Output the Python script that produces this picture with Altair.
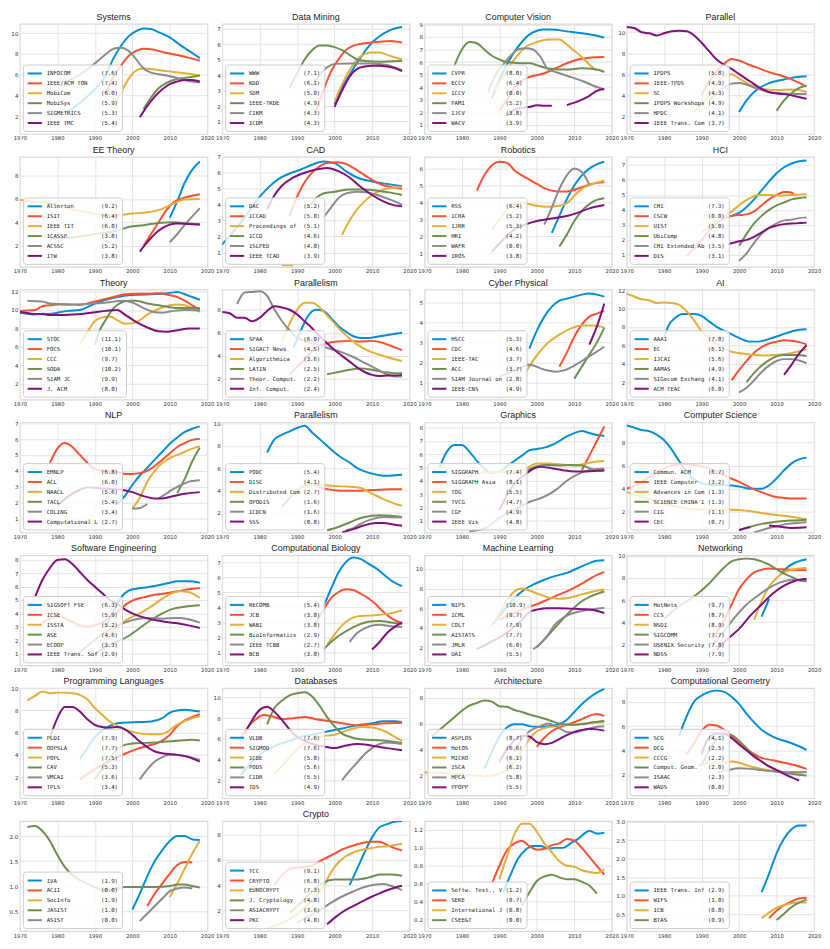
import altair as alt
import pandas as pd

COLORS = ["#008fd5", "#fc4f30", "#e5ae38", "#6d904f", "#8b8b8b", "#810f7c"]
X_TICKS = [1970, 1980, 1990, 2000, 2010, 2020]

# ---------------- data: (name, score, [(year, value), ... None = gap]) ----------------
P01 = [
    ("INFOCOM", 7.6, [(1982,2.3),(1985,3.0),(1988,3.9),(1991,5.0),(1993,6.0),(1995,7.6),(1997,8.8),(1999,9.7),(2001,10.2),(2003,10.45),(2005,10.4),(2007,10.1),(2010,9.6),(2013,8.8),(2016,8.1),(2018,7.6)]),
    ("IEEE/ACM TON", 7.4, [(1993,4.3),(1995,5.8),(1997,6.9),(1999,7.8),(2001,8.3),(2003,8.5),(2005,8.45),(2008,8.2),(2012,7.9),(2015,7.65),(2018,7.35)]),
    ("MobiCom", 6.0, [(1995,2.8),(1997,4.3),(1999,5.6),(2001,6.4),(2003,6.6),(2005,6.55),(2009,6.35),(2013,6.2),(2018,5.95)]),
    ("MobiSys", 5.9, [(2003,2.7),(2005,3.8),(2007,4.7),(2009,5.2),(2011,5.5),(2014,5.7),(2018,5.9)]),
    ("SIGMETRICS", 5.3, [(1982,5.3),(1985,5.8),(1988,6.5),(1990,7.1),(1993,8.0),(1995,8.5),(1997,8.6),(1999,8.3),(2001,7.5),(2003,6.6),(2005,6.2),(2008,6.0),(2012,5.7),(2015,5.4),(2018,5.25)]),
    ("IEEE TMC", 5.4, [(2002,1.9),(2004,3.0),(2006,3.9),(2008,4.6),(2010,5.1),(2012,5.35),(2014,5.5),(2016,5.5),(2018,5.35)]),
]
P02 = [
    ("WWW", 7.1, [(2000,2.1),(2002,3.2),(2004,4.0),(2006,4.8),(2008,5.5),(2010,6.1),(2012,6.5),(2014,6.8),(2016,7.0),(2018,7.1)]),
    ("KDD", 6.1, [(1995,1.7),(1997,3.0),(1999,4.2),(2001,5.0),(2003,5.6),(2005,5.9),(2008,6.05),(2012,6.15),(2015,6.2),(2018,6.1)]),
    ("SDM", 5.0, [(2000,2.3),(2002,3.4),(2004,4.3),(2006,5.0),(2008,5.35),(2010,5.45),(2012,5.45),(2014,5.3),(2016,5.15),(2018,5.0)]),
    ("IEEE-TKDE", 4.9, [(1988,3.2),(1990,4.1),(1992,5.0),(1994,5.6),(1996,5.9),(1998,5.9),(2000,5.8),(2002,5.6),(2004,5.3),(2006,5.0),(2008,4.9),(2012,4.85),(2018,4.9)]),
    ("CIKM", 4.3, [(1994,3.3),(1996,4.0),(1998,4.5),(2000,4.72),(2004,4.75),(2010,4.75),(2014,4.65),(2018,4.3)]),
    ("ICDM", 4.3, [(2000,1.95),(2002,3.0),(2004,3.9),(2006,4.4),(2008,4.55),(2010,4.6),(2012,4.6),(2014,4.55),(2016,4.45),(2018,4.25)]),
]
P03 = [
    ("CVPR", 8.0, [(1988,3.1),(1990,4.6),(1992,5.8),(1994,6.8),(1996,7.6),(1998,8.2),(2000,8.5),(2002,8.6),(2004,8.6),(2008,8.45),(2012,8.3),(2016,8.1),(2018,7.95)]),
    ("ECCV", 6.4, [(1990,2.1),(1992,3.0),(1995,4.3),(1998,4.8),(2002,5.1),(2005,5.5),(2008,5.9),(2011,6.2),(2014,6.35),(2018,6.4)]),
    ("ICCV", 0.0, [(1988,3.5),(1991,4.8),(1993,5.8),(1995,6.6),(1997,7.2),(2000,7.6),(2003,7.8),(2006,7.8),(2008,7.4),(2010,6.9),(2012,6.4),(2014,5.8),(2016,5.3)]),
    ("PAMI", 5.2, [(1978,5.7),(1980,7.0),(1982,7.6),(1984,7.5),(1986,7.0),(1988,6.5),(1990,6.2),(1992,6.0),(1994,5.95),(1996,5.9),(1998,5.9),(2000,5.75),(2002,5.55),(2004,5.45),(2008,5.4),(2012,5.5),(2016,5.4),(2018,5.2)]),
    ("IJCV", 3.8, [(1987,3.6),(1989,5.0),(1991,5.8),(1993,6.5),(1995,7.0),(1997,7.1),(1999,7.0),(2001,6.4),(2003,5.4),(2005,5.2),(2008,4.9),(2012,4.5),(2016,4.0),(2018,3.8)]),
    ("WACV", 3.9, [(1992,1.7),(1995,2.3),(1998,2.4),(2000,2.55),(2002,2.5),(2004,2.5),None,(2008,2.55),(2010,2.75),(2012,3.0),(2014,3.3),(2016,3.7),(2018,3.85)]),
]
P04 = [
    ("IPDPS", 5.8, [(2000,2.4),(2002,3.5),(2004,4.3),(2006,4.8),(2008,5.15),(2010,5.35),(2012,5.5),(2014,5.65),(2016,5.75),(2018,5.8)]),
    ("IEEE-TPDS", 4.9, [(1990,4.0),(1992,5.3),(1994,6.3),(1996,7.0),(1998,7.45),(2000,7.3),(2002,7.0),(2005,6.6),(2008,6.2),(2011,5.9),(2014,5.5),(2016,5.2),(2018,4.8)]),
    ("SC", 4.3, [(1988,2.4),(1991,3.5),(1994,5.0),(1996,5.9),(1998,6.0),(2000,5.6),(2003,5.0),(2006,4.6),(2010,4.5),(2014,4.55),(2016,4.5),(2018,4.3)]),
    ("IPDPS Workshops", 4.9, [(2010,2.5),(2012,3.5),(2014,4.2),(2016,4.7),(2018,4.9)]),
    ("HPDC", 4.1, [(1992,3.5),(1995,4.5),(1998,5.1),(2000,5.15),(2002,5.0),(2005,4.6),(2008,4.3),(2012,4.15),(2016,4.1),(2018,4.1)]),
    ("IEEE Trans. Com", 3.7, [(1970,10.5),(1972,10.4),(1974,10.0),(1976,9.9),(1978,9.7),(1980,9.9),(1982,10.1),(1984,10.15),(1986,10.1),(1988,9.7),(1990,9.0),(1992,8.2),(1994,7.4),(1996,6.9),(1998,6.5),(2000,6.0),(2003,5.3),(2006,4.6),(2009,4.2),(2012,4.1),(2015,3.9),(2018,3.65)]),
]
P05 = [
    ("Allerton", 9.2, [(2010,4.4),(2012,5.8),(2014,7.4),(2016,8.5),(2018,9.2)]),
    ("ISIT", 6.4, [(2003,2.0),(2005,3.0),(2007,4.0),(2009,5.0),(2011,5.7),(2013,6.0),(2015,6.2),(2018,6.4)]),
    ("IEEE TIT", 6.0, [(1970,5.9),(1972,5.85),(1974,5.7),(1976,5.75),(1978,5.55),(1980,5.4),(1984,5.1),(1988,4.85),(1992,4.65),(1996,4.6),(2000,4.75),(2004,4.85),(2008,5.15),(2011,5.6),(2014,5.95),(2018,6.0)]),
    ("ICASSP", 3.8, [(1978,2.6),(1984,2.7),(1990,3.0),(1996,3.3),(1999,3.6),(2003,3.75),(2007,3.95),(2011,4.0),(2015,3.9),(2018,3.85)]),
    ("ACSSC", 5.2, [(2010,2.3),(2012,3.0),(2014,3.8),(2016,4.5),(2018,5.2)]),
    ("ITW", 3.8, [(2002,1.5),(2004,2.3),(2006,3.0),(2008,3.5),(2010,3.8),(2012,3.9),(2015,3.85),(2018,3.8)]),
]
P06 = [
    ("DAC", 5.2, [(1970,1.5),(1973,2.3),(1976,3.2),(1979,4.2),(1982,5.0),(1985,5.6),(1988,5.95),(1991,6.2),(1994,6.5),(1997,6.7),(2000,6.6),(2003,6.1),(2006,5.7),(2010,5.45),(2014,5.3),(2018,5.15)]),
    ("ICCAD", 5.0, [(1988,3.3),(1990,4.5),(1992,5.4),(1994,6.0),(1996,6.4),(1998,6.6),(2001,6.65),(2003,6.55),(2005,6.3),(2007,6.0),(2009,5.7),(2012,5.3),(2015,5.1),(2018,5.0)]),
    ("Proceedings of", 5.1, [(1986,0.2),(1989,0.2),None,(2002,2.1),(2004,3.0),(2006,3.7),(2008,4.2),(2010,4.6),(2012,4.85),(2014,5.0),(2016,5.05),(2018,5.1)]),
    ("ICCD", 4.6, [(1993,3.8),(1995,4.4),(1997,4.7),(2000,4.8),(2004,4.95),(2008,4.95),(2012,4.85),(2015,4.75),(2018,4.6)]),
    ("ISLPED", 4.0, [(1997,3.2),(1999,3.8),(2001,4.4),(2003,4.7),(2006,4.8),(2009,4.75),(2012,4.55),(2015,4.3),(2018,4.0)]),
    ("IEEE TCAD", 3.9, [(1982,3.7),(1984,4.6),(1986,5.2),(1989,5.7),(1992,6.0),(1995,6.2),(1998,6.3),(2001,6.1),(2004,5.7),(2007,5.1),(2010,4.6),(2013,4.2),(2016,3.95),(2018,3.9)]),
]
P07 = [
    ("RSS", 6.4, [(2004,2.2),(2006,3.2),(2008,4.2),(2010,5.0),(2012,5.6),(2014,6.0),(2016,6.25),(2018,6.4)]),
    ("ICRA", 5.2, [(1984,4.7),(1986,5.6),(1988,6.2),(1990,6.4),(1992,6.35),(1994,5.9),(1996,5.6),(1998,5.35),(2000,5.1),(2002,4.85),(2004,4.7),(2006,4.65),(2008,4.65),(2010,4.75),(2012,4.9),(2015,5.1),(2018,5.2)]),
    ("IJRR", 5.3, [(1988,2.4),(1990,3.0),(1992,3.6),(1994,3.85),(1996,4.0),(1998,3.9),(2000,3.8),(2003,3.75),(2006,3.8),(2008,3.95),(2010,4.4),(2012,4.8),(2015,5.1),(2018,5.3)]),
    ("HRI", 4.2, [(2006,1.4),(2008,2.1),(2010,2.9),(2012,3.5),(2014,3.9),(2016,4.15),(2018,4.25)]),
    ("WAFR", 0.0, [(2002,2.7),(2004,3.7),(2006,4.8),(2008,5.6),(2010,6.0),(2012,5.8),(2014,5.05)]),
    ("IROS", 3.8, [(1988,1.1),(1991,1.8),(1994,2.4),(1997,2.7),(2000,2.9),(2004,3.05),(2008,3.2),(2011,3.4),(2014,3.65),(2018,3.85)]),
]
P08 = [
    ("CHI", 7.3, [(1995,3.3),(1998,3.6),(2000,3.8),(2002,4.2),(2004,4.7),(2006,5.3),(2008,5.9),(2010,6.45),(2012,6.85),(2014,7.1),(2016,7.25),(2018,7.3)]),
    ("CSCW", 0.0, [(1986,0.9),(1989,1.7),(1992,2.6),(1995,3.3),(1998,3.6),(2000,3.65),(2002,3.7),(2004,3.9),(2006,4.3),(2008,4.7),(2010,5.0),(2012,5.2),(2013,5.2),(2014,5.15),(2015,4.95)]),
    ("UIST", 5.0, [(1990,2.5),(1994,3.2),(1997,3.7),(1999,4.1),(2001,4.5),(2003,4.8),(2005,5.0),(2008,5.0),(2011,4.95),(2014,5.0),(2018,5.05)]),
    ("UbiComp", 4.8, [(2000,1.6),(2002,2.4),(2004,3.1),(2006,3.6),(2008,4.0),(2010,4.3),(2012,4.5),(2014,4.7),(2016,4.8),(2018,4.85)]),
    ("CHI Extended Ab", 3.5, [(2000,0.6),(2002,1.1),(2004,1.8),(2006,2.4),(2008,2.8),(2010,3.1),(2012,3.3),(2014,3.35),(2016,3.45),(2018,3.5)]),
    ("DIS", 3.1, [(1997,1.7),(2000,1.9),(2002,2.0),(2004,2.2),(2006,2.5),(2008,2.8),(2010,2.95),(2012,3.05),(2015,3.1),(2018,3.15)]),
]
P09 = [
    ("STOC", 11.1, [(1970,9.7),(1972,9.6),(1974,9.5),(1976,9.6),(1978,9.55),(1980,9.7),(1983,9.9),(1986,10.0),(1988,10.3),(1990,10.7),(1993,11.1),(1996,11.4),(1999,11.6),(2002,11.65),(2005,11.7),(2008,11.75),(2011,11.9),(2012,11.95),(2014,11.7),(2016,11.4),(2018,11.1)]),
    ("FOCS", 10.1, [(1970,9.9),(1972,9.95),(1974,10.0),(1976,10.4),(1978,10.5),(1980,10.6),(1983,10.6),(1986,10.55),(1989,10.8),(1992,11.1),(1995,11.4),(1998,11.7),(2001,11.75),(2004,11.75),(2007,11.8),(2010,11.6),(2012,11.4),(2014,11.0),(2016,10.5),(2018,10.0)]),
    ("CCC", 9.7, [(1986,6.4),(1988,7.6),(1990,8.8),(1992,9.2),(1994,9.3),(1996,8.9),(1998,8.5),(2000,8.55),(2002,8.9),(2004,9.5),(2007,10.1),(2010,10.5),(2012,10.6),(2014,10.5),(2016,10.2),(2018,9.8)]),
    ("SODA", 10.2, [(1990,6.2),(1991,7.5),(1993,9.0),(1995,10.2),(1997,10.8),(1999,11.0),(2001,11.0),(2004,10.7),(2007,10.5),(2010,10.3),(2013,10.2),(2016,10.2),(2018,10.2)]),
    ("SIAM JC", 9.9, [(1972,11.0),(1974,10.95),(1976,10.9),(1978,10.7),(1980,10.65),(1983,10.6),(1986,10.6),(1989,10.7),(1992,10.75),(1995,10.9),(1998,11.0),(2000,10.8),(2003,10.2),(2006,9.75),(2008,9.7),(2011,9.9),(2014,10.0),(2018,9.95)]),
    ("J. ACM", 8.0, [(1970,9.8),(1973,9.6),(1976,9.55),(1978,9.45),(1981,9.45),(1984,9.5),(1987,9.6),(1990,9.75),(1993,9.9),(1996,10.0),(1998,9.5),(2001,8.7),(2004,8.1),(2007,7.7),(2009,7.65),(2012,7.8),(2015,8.0),(2018,8.0)]),
]
P10 = [
    ("SPAA", 6.0, [(1989,4.7),(1991,6.2),(1993,7.5),(1995,8.0),(1997,7.9),(1999,7.3),(2001,6.6),(2003,6.1),(2005,5.7),(2007,5.55),(2009,5.55),(2012,5.7),(2015,5.85),(2018,6.0)]),
    ("SIGACT News", 4.5, [(1988,2.4),(1992,3.7),(1995,4.7),(1998,5.1),(2001,5.25),(2004,5.3),(2007,5.25),(2010,5.3),(2012,5.2),(2014,5.0),(2016,4.75),(2018,4.5)]),
    ("Algorithmica", 3.6, [(1986,5.3),(1988,6.8),(1990,8.0),(1992,8.6),(1994,8.6),(1996,8.2),(1998,7.5),(2000,6.8),(2002,6.1),(2004,5.5),(2006,5.0),(2008,4.6),(2010,4.3),(2013,4.0),(2016,3.7),(2018,3.55)]),
    ("LATIN", 2.5, [(1998,2.4),(2001,2.6),(2004,2.8),(2007,2.9),(2010,2.8),(2013,2.6),(2016,2.5),(2018,2.5)]),
    ("Theor. Comput.", 2.2, [(1974,8.5),(1976,9.5),(1978,9.55),(1980,9.6),(1982,9.2),(1984,8.0),(1986,7.0),(1988,6.2),(1990,5.6),(1993,5.2),(1996,4.9),(1999,4.6),(2002,4.3),(2005,3.9),(2008,3.4),(2011,2.9),(2014,2.4),(2016,2.2),(2018,2.2)]),
    ("Inf. Comput.", 2.4, [(1970,7.8),(1972,7.7),(1974,7.3),(1976,7.3),(1978,7.0),(1980,7.3),(1982,7.9),(1984,8.3),(1986,8.2),(1988,8.0),(1990,7.6),(1992,7.0),(1994,6.4),(1996,5.7),(1998,5.1),(2000,4.5),(2002,4.0),(2004,3.5),(2006,3.0),(2008,2.6),(2010,2.35),(2012,2.25),(2014,2.3),(2016,2.3),(2018,2.35)]),
]
P11 = [
    ("HSCC", 5.3, [(1998,2.7),(2000,3.6),(2002,4.3),(2004,4.8),(2006,5.1),(2008,5.2),(2010,5.3),(2012,5.4),(2014,5.45),(2016,5.4),(2018,5.3)]),
    ("CDC", 4.6, [(2006,1.8),(2008,2.5),(2010,3.3),(2012,3.9),(2014,4.3),(2016,4.45),(2018,4.6)]),
    ("IEEE-TAC", 3.7, [(1997,1.5),(1999,2.1),(2001,2.6),(2003,3.0),(2006,3.4),(2009,3.7),(2012,3.85),(2015,3.85),(2018,3.75)]),
    ("ACC", 3.7, [(2010,1.2),(2012,1.8),(2014,2.4),(2016,3.0),(2018,3.75)]),
    ("SIAM Journal on", 2.8, [(1990,1.3),(1994,1.6),(1998,1.9),(2002,1.65),(2005,1.55),(2007,1.6),(2010,1.85),(2013,2.2),(2016,2.55),(2018,2.8)]),
    ("IEEE-CNS", 4.9, [(2014,2.9),(2016,3.8),(2018,4.95)]),
]
P12 = [
    ("AAAI", 7.8, [(1980,6.8),(1981,8.0),(1983,9.0),(1985,9.4),(1988,9.4),(1990,9.2),(1992,8.6),(1994,8.0),(1997,7.4),(2000,6.8),(2003,6.4),(2005,6.4),(2008,6.7),(2011,7.1),(2014,7.5),(2016,7.7),(2018,7.75)]),
    ("EC", 6.1, [(1998,2.2),(2000,3.3),(2002,4.3),(2004,5.2),(2006,5.8),(2008,6.2),(2010,6.4),(2012,6.55),(2014,6.5),(2016,6.35),(2018,6.1)]),
    ("IJCAI", 5.6, [(1970,11.6),(1972,11.3),(1974,11.0),(1976,10.9),(1978,10.6),(1980,10.65),(1982,10.6),(1984,10.4),(1986,9.7),(1988,8.7),(1990,7.5),(1992,6.8),(1994,6.1),(1996,5.6),(1998,5.3),(2001,5.1),(2004,4.95),(2007,4.9),(2010,4.95),(2013,5.1),(2016,5.35),(2018,5.6)]),
    ("AAMAS", 4.9, [(2002,2.0),(2004,3.0),(2006,3.8),(2008,4.4),(2010,4.8),(2012,4.95),(2015,4.95),(2018,4.85)]),
    ("SIGecom Exchang", 4.1, [(2000,0.9),(2002,1.4),(2004,2.2),(2006,3.1),(2008,3.8),(2010,4.3),(2012,4.5),(2014,4.5),(2016,4.35),(2018,4.05)]),
    ("ACM TEAC", 6.0, [(2012,2.8),(2014,3.9),(2016,5.1),(2018,6.0)]),
]
P13 = [
    ("EMNLP", 6.8, [(1996,1.9),(1998,2.4),(2000,3.1),(2002,3.7),(2004,4.2),(2006,4.7),(2008,5.2),(2010,5.7),(2012,6.1),(2014,6.45),(2016,6.65),(2018,6.8)]),
    ("ACL", 6.0, [(1978,4.5),(1980,5.4),(1982,5.75),(1984,5.5),(1986,5.0),(1988,4.5),(1990,4.1),(1992,4.0),(1994,3.95),(1996,3.9),(1998,3.8),(2000,3.8),(2002,3.85),(2004,4.0),(2006,4.3),(2008,4.7),(2010,5.1),(2012,5.5),(2014,5.75),(2016,5.95),(2018,6.0)]),
    ("NAACL", 5.6, [(2000,1.6),(2002,2.3),(2004,3.3),(2006,4.0),(2008,4.5),(2010,4.8),(2012,5.0),(2014,5.2),(2016,5.4),(2018,5.55)]),
    ("TACL", 5.4, [(2012,2.6),(2014,3.5),(2016,4.6),(2018,5.45)]),
    ("COLING", 3.4, [(2000,1.6),(2002,1.65),(2004,1.9),None,(2007,2.25),(2009,2.55),(2011,2.85),(2013,3.1),(2015,3.3),(2018,3.4)]),
    ("Computational L", 2.7, [(1980,1.8),(1983,2.4),(1986,2.8),(1988,2.95),(1991,2.9),(1994,2.85),(1997,2.8),(2000,2.65),(2003,2.4),(2006,2.25),(2008,2.25),(2011,2.4),(2014,2.55),(2018,2.65)]),
]
P14 = [
    ("PODC", 5.4, [(1982,7.4),(1984,8.6),(1986,9.0),(1988,9.3),(1990,9.6),(1992,9.8),(1994,9.2),(1996,8.6),(1998,8.0),(2000,7.4),(2002,6.9),(2004,6.5),(2006,6.0),(2008,5.7),(2010,5.5),(2012,5.35),(2014,5.3),(2016,5.35),(2018,5.4)]),
    ("DISC", 4.1, [(1986,2.5),(1988,3.3),(1990,4.0),(1992,4.4),(1994,4.5),(1996,4.3),(1998,4.1),(2000,4.0),(2003,3.95),(2006,3.95),(2009,4.0),(2012,4.05),(2015,4.1),(2018,4.1)]),
    ("Distributed Com", 2.7, [(1988,3.5),(1990,4.0),(1993,4.5),(1996,4.5),(1999,4.4),(2002,4.35),(2005,4.3),(2007,4.2),(2010,3.7),(2013,3.2),(2016,2.8),(2018,2.6)]),
    ("OPODIS", 1.6, [(1998,0.4),(2001,0.7),(2004,1.1),(2007,1.5),(2010,1.7),(2012,1.75),(2015,1.7),(2018,1.6)]),
    ("ICDCN", 1.6, [(2003,0.4),(2005,0.6),(2007,1.0),(2010,1.4),(2013,1.6),(2018,1.55)]),
    ("SSS", 0.8, [(2002,0.2),(2005,0.5),(2008,0.85),(2011,1.05),(2013,1.05),(2016,0.9),(2018,0.8)]),
]
P15 = [
    ("SIGGRAPH", 7.4, [(1974,5.0),(1976,6.2),(1978,6.7),(1980,6.7),(1982,6.2),(1984,5.5),(1986,4.9),(1988,4.6),(1990,4.7),(1992,5.1),(1994,5.5),(1996,5.9),(1998,6.3),(2000,6.4),(2002,6.5),(2004,6.7),(2006,7.0),(2008,7.35),(2010,7.6),(2012,7.75),(2014,7.6),(2016,7.45),(2018,7.4)]),
    ("SIGGRAPH Asia", 8.1, [(2012,4.8),(2014,5.9),(2016,7.0),(2018,8.1)]),
    ("TOG", 5.5, [(1982,4.3),(1986,4.65),(1990,4.65),(1994,4.7),(1997,4.9),(2000,5.3),(2003,5.3),(2006,5.25),(2010,5.15),(2013,5.3),(2016,5.45),(2018,5.5)]),
    ("TVCG", 4.7, [(1997,4.7),(2000,5.1),(2003,5.2),(2006,5.15),(2009,5.2),(2012,5.15),(2015,4.85),(2018,4.75)]),
    ("CGF", 4.9, [(1982,0.2),(1986,0.4),(1990,1.2),(1994,1.8),(1998,2.4),(2002,2.8),(2005,3.3),(2008,4.0),(2011,4.5),(2014,4.8),(2018,4.9)]),
    ("IEEE Vis", 4.8, [(1990,1.8),(1992,2.9),(1994,3.8),(1997,4.5),(1999,4.9),(2001,5.05),(2004,4.95),(2007,4.8),(2010,4.7),(2013,4.7),(2016,4.75),(2018,4.8)]),
]
P16 = [
    ("Commun. ACM", 6.7, [(1970,9.5),(1972,9.3),(1974,9.1),(1976,9.0),(1978,8.7),(1980,8.2),(1982,7.4),(1984,6.4),(1986,5.5),(1988,4.8),(1991,4.4),(1994,4.3),(1997,4.3),(2000,4.2),(2003,4.0),(2006,4.0),(2008,4.3),(2010,4.9),(2012,5.6),(2014,6.2),(2016,6.55),(2018,6.7)]),
    ("IEEE Computer", 3.2, [(1970,4.0),(1973,4.4),(1976,5.0),(1979,5.6),(1982,6.0),(1985,6.15),(1988,6.05),(1991,5.85),(1994,5.5),(1997,5.0),(2000,4.6),(2003,4.1),(2006,3.7),(2009,3.35),(2012,3.2),(2015,3.15),(2018,3.15)]),
    ("Advances in Com", 1.3, [(1970,3.7),(1973,3.4),(1976,3.1),(1980,2.7),(1984,2.4),(1988,2.2),(1992,2.2),(1996,2.2),(2000,2.15),(2004,2.0),(2008,1.8),(2012,1.65),(2016,1.45),(2018,1.35)]),
    ("SCIENCE CHINA I", 1.3, [(2000,0.4),(2003,0.7),(2006,0.95),(2009,1.1),(2012,1.2),(2015,1.25),(2018,1.3)]),
    ("CIG", 1.1, [(2004,0.2),(2007,0.5),(2010,0.75),(2013,0.95),(2016,1.05),(2018,1.1)]),
    ("CEC", 0.7, [(2000,0.4),(2002,0.6),(2003,0.65),None,(2008,0.8),(2011,0.7),(2014,0.6),(2016,0.62),(2018,0.65)]),
]
P17 = [
    ("SIGSOFT FSE", 6.3, [(1993,3.0),(1995,4.2),(1997,5.2),(1999,5.7),(2001,5.85),(2004,5.95),(2007,6.1),(2010,6.3),(2012,6.4),(2015,6.4),(2018,6.3)]),
    ("ICSE", 5.9, [(1976,3.3),(1978,3.6),(1980,3.8),(1983,3.5),(1986,3.1),(1988,3.0),(1990,3.1),(1993,3.5),(1996,4.1),(1998,4.6),(2000,4.95),(2003,5.2),(2006,5.4),(2009,5.5),(2012,5.65),(2015,5.8),(2018,5.9)]),
    ("ISSTA", 5.2, [(1993,2.2),(1996,3.0),(1999,3.6),(2002,4.0),(2005,4.5),(2008,5.1),(2011,5.55),(2013,5.65),(2015,5.6),(2018,5.15)]),
    ("ASE", 4.6, [(1990,0.9),(1993,1.5),(1996,1.9),(1999,2.3),(2002,2.9),(2005,3.5),(2008,4.0),(2011,4.35),(2014,4.5),(2018,4.6)]),
    ("ECOOP", 3.3, [(1986,1.1),(1990,2.0),(1994,2.8),(1998,3.3),(2001,3.55),(2004,3.65),(2008,3.6),(2012,3.65),(2015,3.55),(2018,3.3)]),
    ("IEEE Trans. Sof", 2.9, [(1974,5.2),(1976,6.5),(1978,7.4),(1980,8.0),(1982,8.05),(1984,7.7),(1986,7.1),(1988,6.5),(1990,6.0),(1992,5.5),(1994,5.0),(1996,4.7),(1998,4.3),(2000,4.0),(2003,3.7),(2006,3.5),(2009,3.35),(2012,3.25),(2015,3.1),(2018,2.9)]),
]
P18 = [
    ("RECOMB", 5.4, [(1997,4.0),(1999,5.2),(2001,6.3),(2003,7.0),(2005,7.3),(2007,7.2),(2009,6.9),(2011,6.6),(2013,6.2),(2015,5.8),(2018,5.4)]),
    ("JCB", 3.0, [(1995,3.0),(1997,3.8),(1999,4.6),(2001,5.0),(2003,5.2),(2005,5.15),(2007,4.9),(2009,4.6),(2011,4.2),(2013,3.7),(2015,3.3),(2018,2.95)]),
    ("WABI", 3.8, [(1998,1.5),(2000,2.2),(2002,2.8),(2004,3.2),(2006,3.4),(2009,3.45),(2012,3.5),(2015,3.6),(2018,3.8)]),
    ("BioInformatics", 2.9, [(1997,1.2),(2000,1.9),(2003,2.4),(2006,2.8),(2009,3.05),(2012,3.1),(2015,3.0),(2018,2.9)]),
    ("IEEE TCBB", 2.7, [(2004,1.7),(2006,2.3),(2008,2.6),(2010,2.8),(2012,2.85),(2015,2.75),(2018,2.7)]),
    ("BCB", 3.0, [(2010,1.2),(2012,1.7),(2014,2.3),(2016,2.7),(2018,3.0)]),
]
P19 = [
    ("NIPS", 10.9, [(1988,4.2),(1990,5.2),(1993,6.6),(1996,7.7),(1999,8.4),(2002,8.9),(2005,9.3),(2008,9.6),(2011,10.1),(2014,10.6),(2016,10.85),(2018,10.9)]),
    ("ICML", 9.7, [(1990,4.8),(1994,5.5),(1997,6.0),(2000,6.4),(2003,6.9),(2006,7.4),(2009,7.9),(2012,8.5),(2015,9.2),(2018,9.7)]),
    ("COLT", 7.9, [(1988,4.2),(1990,5.4),(1992,6.8),(1994,7.7),(1996,8.0),(1998,7.8),(2000,7.5),(2003,7.1),(2006,6.95),(2008,7.0),(2011,7.3),(2014,7.6),(2018,7.9)]),
    ("AISTATS", 7.7, [(2000,2.0),(2003,3.2),(2006,4.5),(2009,5.7),(2012,6.7),(2015,7.3),(2018,7.7)]),
    ("JMLR", 6.0, [(1999,1.8),(2001,2.4),(2003,3.3),(2005,4.4),(2007,5.0),(2009,5.4),(2012,5.7),(2015,5.9),(2018,6.05)]),
    ("UAI", 5.5, [(1984,1.8),(1987,2.4),(1990,3.0),(1993,3.8),(1996,4.8),(1998,5.6),(2000,5.85),(2003,6.0),(2006,6.0),(2009,5.95),(2012,5.9),(2015,5.8),(2018,5.5)]),
]
P20 = [
    ("HotNets", 9.7, [(2006,4.5),(2007,5.3),(2008,6.1),None,(2011,8.3),(2013,9.0),(2015,9.4),(2018,9.7)]),
    ("CCS", 8.7, [(1993,2.5),(1996,4.2),(1998,5.6),(2000,7.0),(2002,7.9),(2004,8.5),(2006,8.75),(2008,8.85),(2011,8.8),(2014,8.75),(2018,8.7)]),
    ("NSDI", 8.9, [(2004,4.2),(2006,5.9),(2008,7.2),(2010,8.0),(2012,8.5),(2014,8.75),(2016,8.85),(2018,8.9)]),
    ("SIGCOMM", 7.7, [(1980,4.3),(1983,5.2),(1986,5.9),(1989,6.6),(1992,7.5),(1995,8.6),(1998,9.5),(2000,9.7),(2002,9.75),(2004,9.7),(2006,9.5),(2008,9.2),(2010,8.8),(2012,8.4),(2014,8.1),(2016,7.8),(2018,7.7)]),
    ("USENIX Security", 7.8, [(1993,2.0),(1996,3.2),(1999,4.5),(2002,5.6),(2005,6.4),(2008,7.1),(2011,7.6),(2014,7.85),(2018,7.8)]),
    ("NDSS", 7.9, [(1994,1.5),(1997,2.5),(2000,3.4),(2003,4.6),(2006,5.6),(2009,6.6),(2012,7.3),(2015,7.75),(2018,7.9)]),
]
P21 = [
    ("PLDI", 7.9, [(1986,3.6),(1988,4.6),(1990,5.6),(1992,6.2),(1994,6.6),(1996,6.85),(1998,6.9),(2002,6.95),(2005,7.0),(2008,7.3),(2010,7.8),(2012,8.0),(2014,8.05),(2016,8.0),(2018,7.9)]),
    ("OOPSLA", 7.7, [(1986,1.8),(1989,2.5),(1992,3.1),(1995,3.6),(1998,4.1),(2001,4.5),(2004,4.8),(2007,5.1),(2010,5.8),(2012,6.6),(2014,7.1),(2016,7.4),(2018,7.65)]),
    ("POPL", 7.5, [(1972,8.9),(1974,9.3),(1976,9.7),(1978,9.55),(1980,9.6),(1982,9.6),(1984,9.55),(1986,9.4),(1988,9.0),(1990,8.2),(1992,7.6),(1994,7.0),(1996,6.6),(1998,6.3),(2001,6.0),(2004,5.85),(2007,5.85),(2009,6.0),(2011,6.5),(2013,6.9),(2016,7.3),(2018,7.5)]),
    ("CAV", 5.3, [(1990,1.8),(1993,3.3),(1996,4.5),(1998,4.9),(2001,5.05),(2005,5.1),(2009,5.2),(2013,5.3),(2016,5.35),(2018,5.3)]),
    ("VMCAI", 3.6, [(2002,1.8),(2004,2.7),(2006,3.4),(2008,3.8),(2010,4.0),(2012,4.0),(2014,3.9),(2016,3.75),(2018,3.55)]),
    ("TPLS", 3.4, [(1978,5.5),(1980,7.3),(1982,8.3),(1984,8.3),(1986,7.9),(1988,7.2),(1990,6.7),(1992,6.5),(1994,6.45),(1996,6.5),(1998,6.3),(2000,5.8),(2002,5.2),(2004,4.7),(2006,4.3),(2009,4.1),(2012,4.0),(2015,3.8),(2018,3.4)]),
]
P22 = [
    ("VLDB", 7.6, [(1975,2.5),(1978,3.8),(1981,4.7),(1984,5.3),(1988,5.8),(1991,6.2),(1994,6.4),(1998,6.7),(2002,7.0),(2006,7.3),(2010,7.5),(2013,7.7),(2016,7.7),(2018,7.6)]),
    ("SIGMOD", 7.6, [(1975,6.1),(1977,7.2),(1979,7.9),(1981,8.3),(1983,8.2),(1986,7.9),(1989,8.0),(1992,8.1),(1995,7.9),(1998,7.75),(2002,7.5),(2006,7.3),(2010,7.4),(2014,7.5),(2018,7.55)]),
    ("ICDE", 5.8, [(1984,2.6),(1987,3.8),(1990,5.0),(1993,5.8),(1996,6.2),(2000,6.4),(2004,6.9),(2007,7.15),(2010,7.1),(2013,6.8),(2016,6.2),(2018,5.8)]),
    ("PODS", 5.6, [(1982,7.4),(1984,9.0),(1986,9.7),(1988,10.2),(1990,10.4),(1992,10.5),(1994,10.1),(1996,9.2),(1998,8.1),(2000,7.2),(2002,6.5),(2004,6.2),(2006,6.0),(2009,5.9),(2012,5.85),(2015,5.75),(2018,5.6)]),
    ("CIDR", 5.5, [(2002,2.0),(2004,2.9),(2006,3.7),(2008,4.5),(2010,5.1),(2012,5.5),(2014,5.65),(2016,5.6),(2018,5.5)]),
    ("TDS", 4.9, [(1976,6.5),(1978,7.8),(1980,8.8),(1982,9.1),(1984,8.6),(1986,7.8),(1988,6.9),(1990,6.2),(1992,5.8),(1995,5.4),(1998,5.2),(2000,5.1),(2003,5.35),(2006,5.5),(2009,5.4),(2012,5.2),(2015,5.05),(2018,4.9)]),
]
P23 = [
    ("ASPLOS", 8.7, [(1986,2.5),(1988,3.8),(1990,5.0),(1992,5.7),(1994,5.95),(1996,5.95),(1998,5.8),(2000,5.75),(2003,5.8),(2006,5.95),(2008,6.3),(2010,6.9),(2012,7.5),(2014,8.0),(2016,8.4),(2018,8.7)]),
    ("HotOS", 6.6, [(2000,4.2),(2002,4.9),(2004,5.4),(2006,5.7),(2008,5.9),(2010,6.1),(2012,6.35),(2014,6.6),(2016,6.75),(2018,6.6)]),
    ("MICRO", 6.1, [(1970,2.2),(1974,2.2),(1978,2.1),(1982,2.0),(1986,1.9),(1989,2.0),(1992,2.4),(1994,3.0),(1996,3.8),(1998,4.8),(2000,5.4),(2002,5.65),(2005,5.8),(2008,5.9),(2011,5.95),(2014,6.05),(2018,6.1)]),
    ("ISCA", 6.2, [(1972,5.0),(1974,5.5),(1976,6.0),(1978,6.5),(1980,7.0),(1982,7.4),(1984,7.6),(1986,7.8),(1988,7.7),(1990,7.35),(1992,7.3),(1994,7.05),(1996,6.9),(1998,6.7),(2000,6.55),(2003,6.3),(2006,6.0),(2009,5.9),(2012,5.95),(2015,6.1),(2018,6.2)]),
    ("HPCA", 5.8, [(1994,3.8),(1996,4.8),(1998,5.4),(2001,5.8),(2003,6.0),(2005,5.8),(2008,5.35),(2010,5.3),(2012,5.45),(2014,5.6),(2016,5.75),(2018,5.8)]),
    ("PPOPP", 5.5, [(1990,3.0),(1992,4.0),(1994,4.7),(1996,5.05),(1998,5.0),(2000,4.55),(2002,4.4),(2004,4.5),(2006,4.8),(2008,5.1),(2010,5.35),(2012,5.5),(2014,5.6),(2016,5.55),(2018,5.45)]),
]
P24 = [
    ("SCG", 4.1, [(1984,5.2),(1986,6.8),(1988,8.0),(1990,8.5),(1992,8.8),(1994,8.9),(1996,8.8),(1998,8.4),(2000,7.8),(2002,7.0),(2004,6.3),(2006,5.7),(2008,5.3),(2010,5.0),(2012,4.8),(2014,4.6),(2016,4.35),(2018,4.05)]),
    ("DCG", 2.5, [(1986,3.7),(1988,4.6),(1990,5.6),(1992,6.1),(1994,6.05),(1996,5.7),(1998,5.2),(2000,4.6),(2002,4.1),(2004,3.7),(2006,3.4),(2009,3.2),(2012,3.0),(2015,2.8),(2018,2.5)]),
    ("CCCG", 2.2, [(1989,2.8),(1992,3.0),(1995,3.05),(1998,3.1),(2000,3.0),(2003,2.7),(2006,2.5),(2009,2.35),(2012,2.25),(2015,2.25),(2018,2.25)]),
    ("Comput. Geom.", 2.0, [(1990,2.8),(1992,4.0),(1994,4.9),(1996,5.3),(1998,5.25),(2000,4.8),(2002,4.2),(2004,3.6),(2006,3.1),(2008,2.7),(2011,2.3),(2014,2.1),(2018,1.95)]),
    ("ISAAC", 2.3, [(1994,2.2),(1997,2.4),(2000,2.55),(2003,2.5),(2006,2.4),(2009,2.3),(2012,2.2),(2015,2.2),(2018,2.25)]),
    ("WADS", 0.0, [(1990,3.7),(1992,5.1),(1994,5.4),(1996,5.4),(1998,5.0),(2000,4.5),(2002,4.0),(2004,3.5),(2006,3.1),(2008,2.7),(2010,2.4),(2012,2.1),(2014,1.8),(2016,1.55)]),
]
P25 = [
    ("IVA", 1.9, [(2000,0.53),(2002,0.85),(2004,1.2),(2006,1.5),(2008,1.72),(2010,1.9),(2012,2.0),(2014,2.0),(2016,1.93),(2018,1.92)]),
    ("ACII", 0.0, [(2004,0.6),(2006,0.85),(2008,1.05),(2010,1.25),(2012,1.42),(2014,1.48),(2016,1.47)]),
    ("SocInfo", 1.9, [(2010,0.78),(2012,1.05),(2014,1.35),(2016,1.65),(2018,1.9)]),
    ("JASIST", 1.0, [(1972,2.18),(1974,2.2),(1976,2.1),(1978,1.9),(1980,1.62),(1982,1.38),(1984,1.22),(1986,1.12),(1988,1.05),(1990,0.98),(1992,0.93),(1994,0.92),(1996,0.95),(1998,0.98),(2002,0.98),(2006,0.98),(2010,1.0),(2012,1.03),(2014,1.03),(2016,1.0),(2018,0.97)]),
    ("ASIST", 0.0, [(2002,0.3),(2004,0.45),(2006,0.6),(2008,0.75),(2010,0.9),(2012,0.95),(2014,0.97),(2016,0.95)]),
]
P26 = [
    ("TCC", 9.1, [(2004,4.0),(2006,5.3),(2008,6.6),(2010,7.8),(2012,8.6),(2014,8.85),(2016,9.05),(2018,9.1)]),
    ("CRYPTO", 6.8, [(1984,4.0),(1986,4.8),(1988,5.3),(1990,5.4),(1992,5.45),(1994,5.55),(1996,5.9),(1998,6.2),(2000,6.5),(2002,6.85),(2004,7.05),(2006,7.25),(2008,7.4),(2010,7.45),(2012,7.45),(2014,7.2),(2016,6.95),(2018,6.75)]),
    ("EUROCRYPT", 7.3, [(1982,0.6),(1986,1.0),(1990,1.7),(1994,2.8),(1997,3.9),(1999,5.0),(2001,5.8),(2003,6.3),(2005,6.6),(2008,6.85),(2010,6.95),(2012,7.05),(2014,7.1),(2016,7.2),(2018,7.3)]),
    ("J. Cryptology", 4.8, [(1988,1.8),(1991,2.6),(1994,3.5),(1997,4.2),(2000,4.45),(2003,4.45),(2006,4.45),(2009,4.6),(2012,4.85),(2015,4.85),(2018,4.75)]),
    ("ASIACRYPT", 3.6, [(1990,1.0),(1993,1.5),(1996,2.0),(1999,2.6),(2002,3.1),(2005,3.5),(2008,3.85),(2011,4.05),(2013,4.1),(2015,3.95),(2018,3.6)]),
    ("PKC", 4.0, [(1998,0.9),(2000,1.4),(2002,1.85),(2004,2.2),(2006,2.5),(2008,2.8),(2010,3.1),(2012,3.35),(2014,3.6),(2016,3.8),(2018,3.95)]),
]
P27 = [
    ("Softw. Test., V", 1.2, [(1991,0.5),(1993,0.7),(1995,0.88),(1997,0.98),(1999,1.02),(2001,1.02),(2003,0.99),(2005,1.0),(2007,1.0),(2009,1.05),(2011,1.1),(2013,1.17),(2014,1.19),(2016,1.16),(2018,1.17)]),
    ("SEKE", 0.7, [(1988,0.6),(1990,0.8),(1992,0.97),(1994,1.05),(1996,1.08),(1998,1.02),(2000,0.98),(2002,0.99),(2004,1.03),(2006,1.05),(2008,1.1),(2010,1.08),(2012,1.0),(2014,0.9),(2016,0.8),(2018,0.7)]),
    ("International J", 0.8, [(1990,0.65),(1992,0.9),(1994,1.15),(1996,1.27),(1998,1.27),(2000,1.18),(2002,1.05),(2004,0.95),(2006,0.85),(2008,0.8),(2010,0.79),(2012,0.75),(2014,0.73),(2016,0.72),(2018,0.76)]),
    ("CSEE&T", 0.0, [(1996,0.35),(1998,0.5),(2000,0.63),(2002,0.68),(2004,0.7),(2006,0.67),(2008,0.65),(2010,0.65),(2012,0.62),(2014,0.58),(2016,0.49)]),
]
P28 = [
    ("IEEE Trans. Inf", 2.9, [(2006,1.1),(2008,1.6),(2010,2.15),(2012,2.55),(2014,2.8),(2016,2.9),(2018,2.9)]),
    ("WIFS", 1.0, [(2008,0.4),(2010,0.6),(2012,0.75),(2014,0.85),(2016,0.93),(2018,0.95)]),
    ("ICB", 0.8, [(2006,0.4),(2008,0.55),(2010,0.68),(2012,0.75),(2014,0.8),(2016,0.82),(2018,0.82)]),
    ("BTAS", 0.9, [(2010,0.35),(2012,0.52),(2014,0.7),(2016,0.82),(2018,0.9)]),
]

TITLES = ["Systems", "Data Mining", "Computer Vision", "Parallel",
          "EE Theory", "CAD", "Robotics", "HCI",
          "Theory", "Parallelism", "Cyber Physical", "AI",
          "NLP", "Parallelism", "Graphics", "Computer Science",
          "Software Engineering", "Computational Biology", "Machine Learning", "Networking",
          "Programming Languages", "Databases", "Architecture", "Computational Geometry",
          "", "Crypto", "", ""]
PANELS = [P01, P02, P03, P04, P05, P06, P07, P08, P09, P10, P11, P12, P13, P14,
          P15, P16, P17, P18, P19, P20, P21, P22, P23, P24, P25, P26, P27, P28]

# y-axis ranges and tick labels per panel
Y_AXES = [
    ([0.3, 10.9], [2, 4, 6, 8, 10]), ([0.2, 7.3], [1, 2, 3, 4, 5, 6, 7]),
    ([0.25, 9.05], [1, 2, 3, 4, 5, 6, 7, 8, 9]), ([0.3, 10.8], [2, 4, 6, 8, 10]),
    ([0.2, 9.6], [2, 4, 6, 8]), ([0.1, 7.0], [1, 2, 3, 4, 5, 6, 7]),
    ([0.2, 6.7], [1, 2, 3, 4, 5, 6]), ([0.2, 7.55], [1, 2, 3, 4, 5, 6, 7]),
    ([0.3, 12.2], [2, 4, 6, 8, 10, 12]), ([0.2, 9.75], [2, 4, 6, 8]),
    ([0.15, 5.65], [1, 2, 3, 4, 5]), ([0.1, 12.05], [2, 4, 6, 8, 10, 12]),
    ([0.1, 7.05], [1, 2, 3, 4, 5, 6, 7]), ([0.2, 10.1], [2, 4, 6, 8, 10]),
    ([0.1, 8.4], [1, 2, 3, 4, 5, 6, 7, 8]), ([0.2, 9.75], [2, 4, 6, 8]),
    ([0.1, 8.35], [1, 2, 3, 4, 5, 6, 7, 8]), ([0.15, 7.45], [1, 2, 3, 4, 5, 6, 7]),
    ([0.15, 11.4], [2, 4, 6, 8, 10]), ([0.1, 10.05], [2, 4, 6, 8, 10]),
    ([0.1, 10.0], [2, 4, 6, 8, 10]), ([0.25, 10.9], [2, 4, 6, 8, 10]),
    ([0.2, 8.75], [2, 4, 6, 8]), ([0.1, 9.1], [2, 4, 6, 8]),
    ([0.1, 2.3], [0.5, 1.0, 1.5, 2.0]), ([0.35, 9.1], [2, 4, 6, 8]),
    ([0.07, 1.3], [0.2, 0.4, 0.6, 0.8, 1.0, 1.2]), ([0.05, 3.02], [0.5, 1.0, 1.5, 2.0, 2.5, 3.0]),
]

W, H = 189, 111
NB = "\u00a0"


def make_label(name, score):
    return name[:15].ljust(15).replace(" ", NB) + NB + "(" + f"{score:.1f}" + ")"


def make_panel(title, series, yaxis):
    rows, labels = [], []
    for i, (name, score, pts) in enumerate(series):
        lab = make_label(name, score)
        labels.append(lab)
        seg = 0
        for p in pts:
            if p is None:
                seg += 1
                continue
            rows.append({"label": lab, "seg": f"{i}-{seg}", "year": p[0], "value": p[1]})
    df = pd.DataFrame(rows)
    ydom, yticks = yaxis
    yfmt = ".1f" if any(isinstance(t, float) for t in yticks) else "d"
    lines = alt.Chart(df).mark_line(interpolate="monotone", strokeWidth=2, clip=True).encode(
        x=alt.X("year:Q", title=None,
                scale=alt.Scale(domain=[1970, 2020], nice=False, zero=False),
                axis=alt.Axis(values=X_TICKS, format="d", labelFlush=False, labelFontSize=5.3)),
        y=alt.Y("value:Q", title=None,
                scale=alt.Scale(domain=ydom, nice=False, zero=False),
                axis=alt.Axis(values=yticks, format=yfmt, minExtent=8, maxExtent=8)),
        color=alt.Color("label:N", sort=labels,
                        scale=alt.Scale(domain=labels, range=COLORS[:len(labels)]),
                        legend=alt.Legend(title=None, orient="bottom-left", zindex=1)),
        detail="seg:N",
    )
    head = alt.Chart(pd.DataFrame({"t": [title if title else NB]})).mark_text(
        font="Liberation Sans", fontSize=9, color="#222222", align="center", baseline="bottom"
    ).encode(text="t:N", x=alt.value(W / 2), y=alt.value(-2))
    return alt.layer(lines, head).properties(width=W, height=H)


charts = [make_panel(t, s, y) for t, s, y in zip(TITLES, PANELS, Y_AXES)]

chart = alt.concat(*charts, columns=4, bounds="flush",
                   spacing={"row": 23, "column": 15}).resolve_scale(
    color="independent", x="independent", y="independent"
).resolve_legend(color="independent").properties(
    padding={"left": 0, "top": 0, "right": 0, "bottom": 0},
    autosize=alt.AutoSizeParams(type="pad"),
).configure_view(
    stroke="#d9d9d9", strokeWidth=1.2
).configure_axis(
    grid=True, gridColor="#e4e4e4", gridWidth=1, domain=False, ticks=False,
    labelFont="DejaVu Sans", labelFontSize=5.6, labelColor="#333333", labelPadding=2,
).configure_legend(
    offset=3, fillColor="rgba(255,255,255,0.8)", strokeColor="#cccccc", cornerRadius=3,
    padding=4, labelFont="DejaVu Sans Mono", labelFontSize=5.7, labelColor="#222222",
    symbolType="M-1.8,0H1.8", symbolSize=64, symbolStrokeWidth=2, rowPadding=1,
    labelOffset=7, labelLimit=300, symbolOffset=3,
)

chart.save("out.html", embed_options={"renderer": "svg", "actions": False})
